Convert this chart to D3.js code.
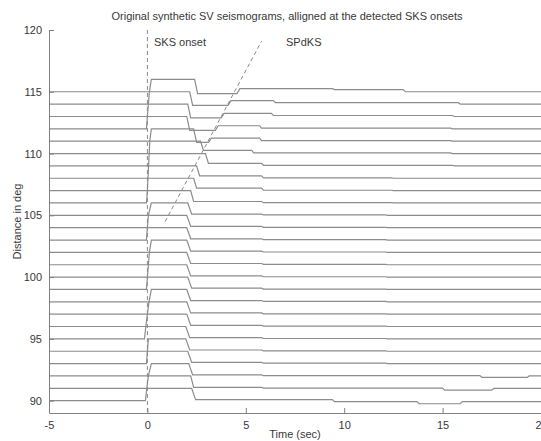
<!DOCTYPE html>
<html lang="en">
  <head>
    <meta charset="utf-8">
    <title>Synthetic SV seismograms</title>
    <script src="https://d3js.org/d3.v7.js"></script>
    <style>
      body { margin: 0; background: #fff; }
      text { font-family: "Liberation Sans", Arial, sans-serif; fill: #383838; }
    </style>
  </head>
  <body>
    <svg></svg>
  <script>

// data

  const distances = [90, 91, 92, 93, 94, 95, 96, 97, 98, 99, 100, 101, 102,
                     103, 104, 105, 106, 107, 108, 109, 110, 111, 112, 113, 114, 115];

  // breakpoints [time (sec), offset (deg)] of each trace, same order as distances
  const waveforms = [
    [[-5,0],[-0.1,0],[-0.03,1],[2.25,1],[2.45,0.08],[9.4,0.08],[9.5,-0.08],[13.7,-0.08],[13.8,-0.25],[15.9,-0.25],[16.0,-0.08],[20,-0.08]],
    [[-5,0],[-0.03,0],[0.05,1],[2.2,1],[2.35,0.08],[5.8,0.08],[5.9,0.02],[15.0,0.02],[15.1,-0.15],[17.5,-0.15],[17.6,0],[20,0]],
    [[-5,0],[0.05,0],[0.2,1],[2.1,1],[2.3,0.08],[5.8,0.08],[5.9,0.02],[16.9,0.02],[17.0,-0.12],[19.3,-0.12],[19.4,0],[20,0]],
    [[-5,0],[-0.05,0],[0,1],[2.05,1],[2.25,0.1],[5.8,0.1],[5.9,0.03],[12.1,0.03],[12.2,0],[20,0]],
    [[-5,0],[0,0],[0.05,1],[1.95,1],[2.15,0.1],[5.8,0.1],[5.9,0.03],[12.1,0.03],[12.2,0],[20,0]],
    [[-5,0],[-0.15,0],[-0.08,1],[1.95,1],[2.15,0.1],[5.8,0.1],[5.9,0.03],[12.1,0.03],[12.2,0],[20,0]],
    [[-5,0],[-0.08,0],[0,1],[2.0,1],[2.2,0.1],[5.8,0.1],[5.9,0.03],[12.1,0.03],[12.2,0],[20,0]],
    [[-5,0],[0,0],[0.08,1],[2.0,1],[2.2,0.1],[5.8,0.1],[5.9,0.03],[12.1,0.03],[12.2,0],[20,0]],
    [[-5,0],[0.08,0],[0.2,1],[2.0,1],[2.2,0.1],[5.8,0.1],[5.9,0.03],[12.1,0.03],[12.2,0],[20,0]],
    [[-5,0],[-0.05,0],[0,1],[2.05,1],[2.25,0.1],[5.8,0.1],[5.9,0.03],[12.1,0.03],[12.2,0],[20,0]],
    [[-5,0],[0,0],[0.05,1],[2.0,1],[2.2,0.1],[5.8,0.1],[5.9,0.03],[12.1,0.03],[12.2,0],[20,0]],
    [[-5,0],[0.05,0],[0.1,1],[2.0,1],[2.2,0.1],[5.8,0.1],[5.9,0.03],[12.1,0.03],[12.2,0],[20,0]],
    [[-5,0],[0.1,0],[0.2,1],[2.0,1],[2.2,0.1],[5.8,0.1],[5.9,0.03],[12.1,0.03],[12.2,0],[20,0]],
    [[-5,0],[-0.05,0],[0,1],[2.0,1],[2.2,0.1],[5.8,0.1],[5.9,0.03],[12.1,0.03],[12.2,0],[20,0]],
    [[-5,0],[0,0],[0.05,1],[2.0,1],[2.2,0.1],[5.8,0.1],[5.9,0.03],[12.1,0.03],[12.2,0],[20,0]],
    [[-5,0],[0.05,0],[0.2,1],[2.05,1],[2.25,0.1],[5.8,0.1],[5.9,0.03],[12.1,0.03],[12.2,0],[20,0]],
    [[-5,0],[-0.05,0],[0,1],[2.2,1],[2.35,0.12],[5.8,0.12],[5.9,0.02],[12.4,0.02],[12.5,0],[20,0]],
    [[-5,0],[0,0],[0.03,1],[2.35,1],[2.5,0.2],[5.8,0.2],[5.9,0.03],[12.4,0.03],[12.5,0],[20,0]],
    [[-5,0],[0.03,0],[0.06,1],[2.5,1],[2.65,0.2],[5.8,0.2],[5.9,0.03],[12.4,0.03],[12.5,0],[20,0]],
    [[-5,0],[0.06,0],[0.09,1],[2.95,1],[3.1,0.2],[5.8,0.2],[5.9,0.05],[15.5,0.05],[15.6,0],[20,0]],
    [[-5,0],[0.09,0],[0.12,1],[2.7,1],[2.85,0.25],[5.3,0.25],[5.4,0.05],[15.4,0.05],[15.5,0],[20,0]],
    [[-5,0],[0.12,0],[0.2,1],[2.35,1],[2.5,-0.1],[3.1,-0.1],[3.25,0.25],[5.7,0.25],[5.8,0.05],[15.4,0.05],[15.5,0],[20,0]],
    [[-5,0],[-0.05,0],[0,1],[2.0,1],[2.15,-0.12],[3.45,-0.12],[3.6,0.25],[5.7,0.25],[5.8,0.05],[15.4,0.05],[15.5,0],[20,0]],
    [[-5,0],[0,0],[0.05,1],[2.05,1],[2.2,-0.12],[3.75,-0.12],[3.9,0.25],[6.3,0.25],[6.4,0.08],[15.5,0.08],[15.6,0],[20,0]],
    [[-5,0],[0.05,0],[0.1,1],[2.15,1],[2.3,-0.1],[4.1,-0.1],[4.25,0.28],[6.4,0.28],[6.5,0.12],[15.8,0.12],[15.9,0],[20,0]],
    [[-5,0],[0.1,0],[0.2,1],[2.4,1],[2.55,-0.15],[4.55,-0.15],[4.7,0.25],[9.4,0.25],[9.5,0.18],[13.0,0.18],[13.1,0],[20,0]]
  ];

  const xTicks = [-5, 0, 5, 10, 15, 20];
  const yTicks = [90, 95, 100, 105, 110, 115, 120];

  // dashed guide lines: [time, distance] end points
  const sksLine = [[0, 120], [0, 89]];
  const spdksLine = [[0.9, 104.5], [5.8, 119.1]];

// svg and scales

  const w = 541;
  const h = 441;
  const margin = {top: 30, right: 0, bottom: 28, left: 49};

  const svg = d3.select("svg")
      .attr("width", w)
      .attr("height", h);

  const xScale = d3.scaleLinear()
      .domain([-5, 20])
      .range([margin.left, w - margin.right]);

  const yScale = d3.scaleLinear()
      .domain([89, 120])
      .range([h - margin.bottom, margin.top]);

// traces

  const line = d3.line()
      .x(d => xScale(d[0]))
      .y(d => yScale(d[1]));

  svg.append("g")
      .attr("id", "traces")
    .selectAll("path")
      .data(distances)
    .enter().append("path")
      .attr("d", (dist, i) => line(waveforms[i].map(p => [p[0], dist + p[1]])))
      .attr("fill", "none")
      .attr("stroke", "#8c8c8c")
      .attr("stroke-width", 1.2);

// dashed guides

  [sksLine, spdksLine].forEach(seg => {
    svg.append("path")
        .attr("d", line(seg))
        .attr("fill", "none")
        .attr("stroke", "#8a8a8a")
        .attr("stroke-width", 1)
        .attr("stroke-dasharray", "4,3");
  });

// axes

  const xAxis = d3.axisBottom(xScale)
      .tickValues(xTicks)
      .tickSizeInner(-5)
      .tickSizeOuter(0)
      .tickPadding(8)
      .tickFormat(d => String(d));

  const yAxis = d3.axisLeft(yScale)
      .tickValues(yTicks)
      .tickSizeInner(-5)
      .tickSizeOuter(0)
      .tickPadding(7);

  svg.append("g")
      .attr("class", "xAxis")
      .attr("transform", `translate(0, ${h - margin.bottom})`)
      .call(xAxis);

  svg.append("g")
      .attr("class", "yAxis")
      .attr("transform", `translate(${margin.left}, 0)`)
      .call(yAxis);

  svg.selectAll(".xAxis, .yAxis")
      .attr("font-family", null)
      .attr("font-size", 11);
  svg.selectAll(".domain, .tick line")
      .attr("stroke", "#808080");
  svg.selectAll(".tick text")
      .attr("fill", "#383838");

// labels

  svg.append("text")
      .attr("x", 287)
      .attr("y", 20)
      .attr("text-anchor", "middle")
      .attr("font-size", 11)
      .text("Original synthetic SV seismograms, alligned at the detected SKS onsets");

  svg.append("text")
      .attr("x", 295)
      .attr("y", 438)
      .attr("text-anchor", "middle")
      .attr("font-size", 11)
      .text("Time (sec)");

  svg.append("text")
      .attr("transform", `translate(21, ${(margin.top + h - margin.bottom) / 2}) rotate(-90)`)
      .attr("text-anchor", "middle")
      .attr("font-size", 11)
      .text("Distance in deg");

  svg.append("text")
      .attr("x", 154)
      .attr("y", 46)
      .attr("font-size", 11)
      .text("SKS onset");

  svg.append("text")
      .attr("x", 286)
      .attr("y", 46)
      .attr("font-size", 11)
      .text("SPdKS");

    </script>
  </body>
</html>
